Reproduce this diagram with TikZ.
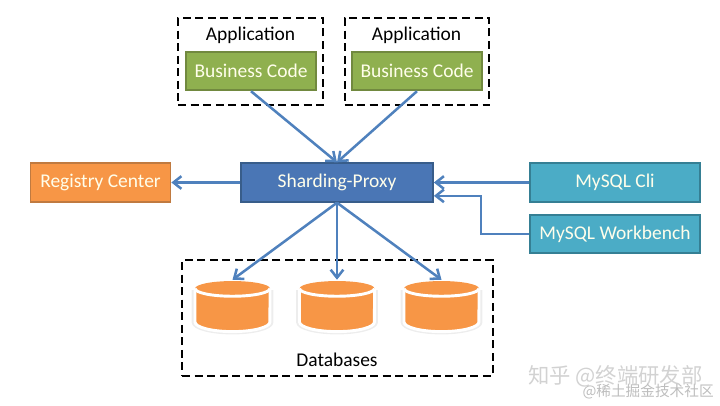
\documentclass[tikz,border=0pt]{standalone}
\usepackage{fontspec}
\setmainfont{Carlito}
\newfontfamily\cjkfont{Noto Sans CJK SC}
\usepackage{tikz}
\usetikzlibrary{positioning,shapes,arrows,arrows.meta}
\definecolor{linkblue}{HTML}{4F81BD}
\definecolor{greenfill}{HTML}{8FB04F}
\definecolor{greenline}{HTML}{71893F}
\definecolor{orangefill}{HTML}{F79646}
\definecolor{orangeline}{HTML}{C07A40}
\definecolor{bluefill}{HTML}{4A76B5}
\definecolor{blueline}{HTML}{385D8A}
\definecolor{tealfill}{HTML}{4BACC6}
\definecolor{tealline}{HTML}{357F94}
\definecolor{markgray}{HTML}{D2D2D2}
% one drum of the database group, with a named node over it for the arrows
\newcommand{\dbdrum}[2]{
  \draw[drumhalo] (#2-38.5,290) -- (#2-38.5,322) arc[start angle=180,end angle=360,x radius=28.9pt,y radius=7.5pt]
        -- (#2+38.5,290);
  \draw[drumbody] (#2-37.5,288.5) -- (#2-37.5,322) arc[start angle=180,end angle=360,x radius=28.1pt,y radius=7.2pt]
        -- (#2+37.5,288.5) arc[start angle=0,end angle=180,x radius=28.1pt,y radius=5.6pt] -- cycle;
  \draw[drumrim] (#2-37.5,288.5) arc[start angle=180,end angle=360,x radius=28.1pt,y radius=5.8pt];
  \draw[drumrim] (#2-37.5,288.5) -- (#2-37.5,322) arc[start angle=180,end angle=360,x radius=28.1pt,y radius=7.2pt]
        -- (#2+37.5,288.5);
  \node[dbnode] (#1) at (#2,306.5) {};
}

\begin{document}
\begin{tikzpicture}[x=0.75pt,y=-0.75pt,->,>={Straight Barb[length=6pt,width=9.5pt]},
                    line width=1.9pt,color=black,font=\fontsize{14.6}{16}\selectfont]
  \tikzstyle{solidbox}=[rectangle, line width=1.3pt, text=white!92!yellow, minimum height=29pt, inner sep=0pt]
  \tikzstyle{codebox}=[solidbox, fill=greenfill, draw=greenline, minimum width=98pt]
  \tikzstyle{clibox}=[solidbox, fill=tealfill, draw=tealline, minimum width=128pt]
  \tikzstyle{groupbox}=[rectangle, draw=black, line width=1.4pt, dash pattern=on 6pt off 3.4pt, inner sep=0pt]
  \tikzstyle{dbnode}=[rectangle, minimum width=60pt, minimum height=38.25pt, inner sep=0pt]
  \tikzstyle{drumhalo}=[-, draw=black!7, line width=3.6pt, line join=round]
  \tikzstyle{drumbody}=[-, fill=orangefill, draw=none]
  \tikzstyle{drumrim}=[-, draw=white, line width=2.2pt, line join=round]
  \tikzstyle{link}=[draw=linkblue]

  \useasboundingbox (0,0) rectangle (720,405);

  \node[groupbox, minimum width=108.5pt, minimum height=65pt] (app1) at (250.5,61.5) {};
  \node[groupbox, minimum width=108.5pt, minimum height=65pt] (app2) at (417,61.5) {};
  \node (app1label) at (250.5,35) {Application};
  \node (app2label) at (416.5,35) {Application};
  \node[codebox] (code1) at (251,71) {Business Code};
  \node[codebox] (code2) at (417,71) {Business Code};

  \node[solidbox, fill=orangefill, draw=orangeline, minimum width=105pt] (registry) at (100.5,182.5) {Registry Center};
  \node[solidbox, fill=bluefill, draw=blueline, minimum width=144pt] (proxy) at (337,182.5) {Sharding-Proxy};
  \node[clibox] (cli) at (615,182.5) {MySQL Cli};
  \node[clibox] (bench) at (615,234) {MySQL Workbench};

  \node[groupbox, minimum width=233pt, minimum height=87pt] (dbgroup) at (337.5,318) {};
  \dbdrum{db1}{232.5}
  \dbdrum{db2}{337}
  \dbdrum{db3}{441.5}
  \node (dblabel) at (337,360) {Databases};

  \coordinate (benchtarget) at ([yshift=-10pt]proxy.east);

  \draw[link] (code1.south) -- (proxy.north);
  \draw[link] (code2.south) -- (proxy.north);
  \draw[link] (proxy.west) -- (registry.east);
  \draw[link] (cli.west) -- (proxy.east);
  \draw[link] (proxy.south) -- (db1.north);
  \draw[link] (proxy.south) -- (db2.north);
  \draw[link] (proxy.south) -- (db3.north);
  \draw[link] (bench.west) -- ++(-48,0) |- (benchtarget);

  % watermark
  \node[text=markgray, anchor=west, inner sep=0pt, font=\cjkfont\fontsize{16}{18}\selectfont] (mark1) at (527,376) {知乎 @终端研发部};
  \node[text=markgray!90!black, anchor=east, inner sep=0pt, font=\cjkfont\fontsize{11}{13}\selectfont] (mark2) at (715,392) {@稀土掘金技术社区};
\end{tikzpicture}
\end{document}
